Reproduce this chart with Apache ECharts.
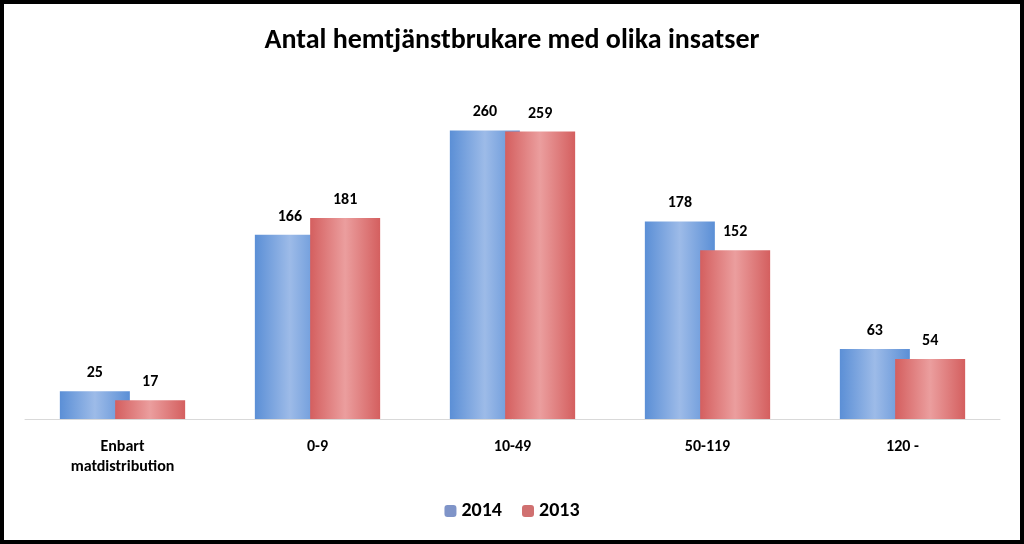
<!DOCTYPE html>
<html><head><meta charset="utf-8">
<script src="https://cdn.jsdelivr.net/npm/echarts@6/dist/echarts.min.js"></script>
<style>html,body{margin:0;padding:0;background:#fff}
#c{position:absolute;left:0;top:0;width:1016px;height:536px;border:4px solid #000;background:#fff}</style>
</head><body><div id="c"></div>
<script>
const categories = ['Enbart\nmatdistribution', '0-9', '10-49', '50-119', '120 -'];
const values2014 = [25, 166, 260, 178, 63];
const values2013 = [17, 181, 259, 152, 54];
const seriesNames = ['2014', '2013'];
const chart = echarts.init(document.getElementById('c'));
const grad = (a, b) => new echarts.graphic.LinearGradient(0, 0, 1, 0, [{offset:0,color:a},{offset:0.5,color:b},{offset:1,color:a}]);
const lbl = {show:true, position:'top', distance:10, fontFamily:'Carlito, Liberation Sans, sans-serif', fontWeight:'bold', fontSize:16, color:'#000'};
chart.setOption({
  title:{text:'Antal hemtjänstbrukare med olika insatser', left:'center', top:18,
    textStyle:{fontFamily:'Carlito, Liberation Sans, sans-serif', fontWeight:'bold', fontSize:28, color:'#000'}},
  legend:{bottom:14, itemWidth:12, itemHeight:12, itemGap:20,
    textStyle:{fontFamily:'Carlito, Liberation Sans, sans-serif', fontWeight:'bold', fontSize:20, color:'#000'},
    data:[{name:'2014', itemStyle:{color:'#7f94c8'}},{name:'2013', itemStyle:{color:'#d07070'}}]},
  grid:{left:21, right:20, top:82, bottom:121},
  xAxis:{type:'category', data:categories, axisTick:{show:false},
    axisLine:{lineStyle:{color:'#d9d9d9'}},
    axisLabel:{margin:18, fontFamily:'Carlito, Liberation Sans, sans-serif', fontWeight:'bold', fontSize:16, color:'#000', lineHeight:20}},
  yAxis:{type:'value', min:0, max:300, show:false, splitLine:{show:false}},
  series:[
    {name:seriesNames[0], type:'bar', data:values2014, barWidth:70, barGap:'-21%', z:2,
     itemStyle:{color:grad('#5b8fd6','#9dbbe8')}, label:lbl},
    {name:seriesNames[1], type:'bar', data:values2013, barWidth:70, z:3,
     itemStyle:{color:grad('#d45f5f','#eb9e9e')}, label:lbl}
  ]
});
</script></body></html>
